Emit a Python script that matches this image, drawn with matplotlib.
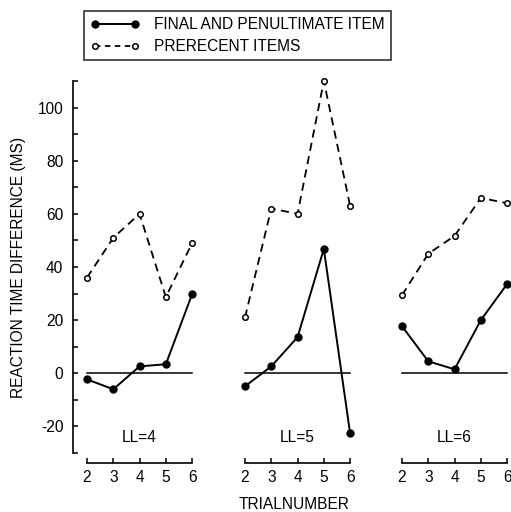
import matplotlib.pyplot as plt
from matplotlib.lines import Line2D

plt.rcParams['font.family'] = ['Liberation Sans', 'DejaVu Sans']
plt.rcParams['axes.unicode_minus'] = False

trials = [2, 3, 4, 5, 6]
panel_labels = ['LL=4', 'LL=5', 'LL=6']

# final and penultimate item (filled dots, solid line)
final_items = [
    [-2.3, -6.0, 2.6, 3.4, 29.8],
    [-4.9, 2.6, 13.6, 46.8, -22.6],
    [17.7, 4.5, 1.5, 20.0, 33.6],
]
# prerecent items (open dots, dashed line)
prerecent_items = [
    [36.0, 51.0, 60.0, 28.7, 49.0],
    [21.0, 62.0, 60.0, 110.0, 63.0],
    [29.4, 45.0, 51.7, 66.0, 64.0],
]

W, H = 511, 512
fig = plt.figure(figsize=(W / 100, H / 100), dpi=100)

ax_bottom = (H - 453) / H
ax_height = 372 / H
lefts = [73, 231, 388]
width = 127
fs = 11.2

axes = []
for i, left in enumerate(lefts):
    ax = fig.add_axes([left / W, ax_bottom, width / W, ax_height])
    axes.append(ax)
    ax.set_xlim(1.467, 6.3)
    ax.set_ylim(-30, 110)
    ax.patch.set_alpha(0)

    ax.axhline(0, xmin=(2 - 1.467) / (6.3 - 1.467), xmax=(6 - 1.467) / (6.3 - 1.467),
               color='black', lw=1.1)

    ax.plot(trials, prerecent_items[i], color='black', lw=1.3, dashes=(4.5, 3),
            marker='o', ms=4.0, mfc='white', mec='black', mew=1.1, clip_on=False)
    ax.plot(trials, final_items[i], color='black', lw=1.4,
            marker='o', ms=5.0, mfc='black', mec='black', clip_on=False)

    ax.text(4, -24, panel_labels[i], ha='center', va='center', fontsize=fs)

    for s in ['top', 'right']:
        ax.spines[s].set_visible(False)
    ax.spines['bottom'].set_position(('outward', 7.2))
    ax.spines['bottom'].set_bounds(2, 6)
    ax.spines['bottom'].set_linewidth(1.2)
    ax.set_xticks(trials)
    ax.tick_params(axis='x', direction='in', length=3.5, width=1.1,
                   labelsize=fs, pad=5)

    if i == 0:
        ax.spines['left'].set_bounds(-30, 110)
        ax.spines['left'].set_linewidth(1.2)
        ax.set_yticks([-20, 0, 20, 40, 60, 80, 100])
        ax.set_yticks([-30, -10, 10, 30, 50, 70, 90, 110], minor=True)
        ax.tick_params(axis='y', which='both', direction='in', length=3.5,
                       width=1.1, labelsize=fs, pad=7)
        ax.set_ylabel('REACTION TIME DIFFERENCE (MS)', fontsize=fs, labelpad=8)
    else:
        ax.spines['left'].set_visible(False)
        ax.set_yticks([])

axes[1].set_xlabel('TRIALNUMBER', fontsize=fs, labelpad=9)

handles = [
    Line2D([], [], color='black', lw=1.4, marker='o', ms=5.0, mfc='black'),
    Line2D([], [], color='black', lw=1.3, dashes=(3, 2.5), marker='o', ms=4.0,
           mfc='white', mew=1.1),
]
leg = fig.legend(handles, ['FINAL AND PENULTIMATE ITEM', 'PRERECENT ITEMS'],
                 loc='upper left', bbox_to_anchor=(84 / W, 1 - 11 / H),
                 fontsize=fs, numpoints=2, handlelength=3.17, frameon=True,
                 fancybox=False, edgecolor='black', borderaxespad=0,
                 labelspacing=0.45, handletextpad=0.92, borderpad=0.4)
leg.get_frame().set_linewidth(1.2)

fig.savefig('out.png', dpi=100)
